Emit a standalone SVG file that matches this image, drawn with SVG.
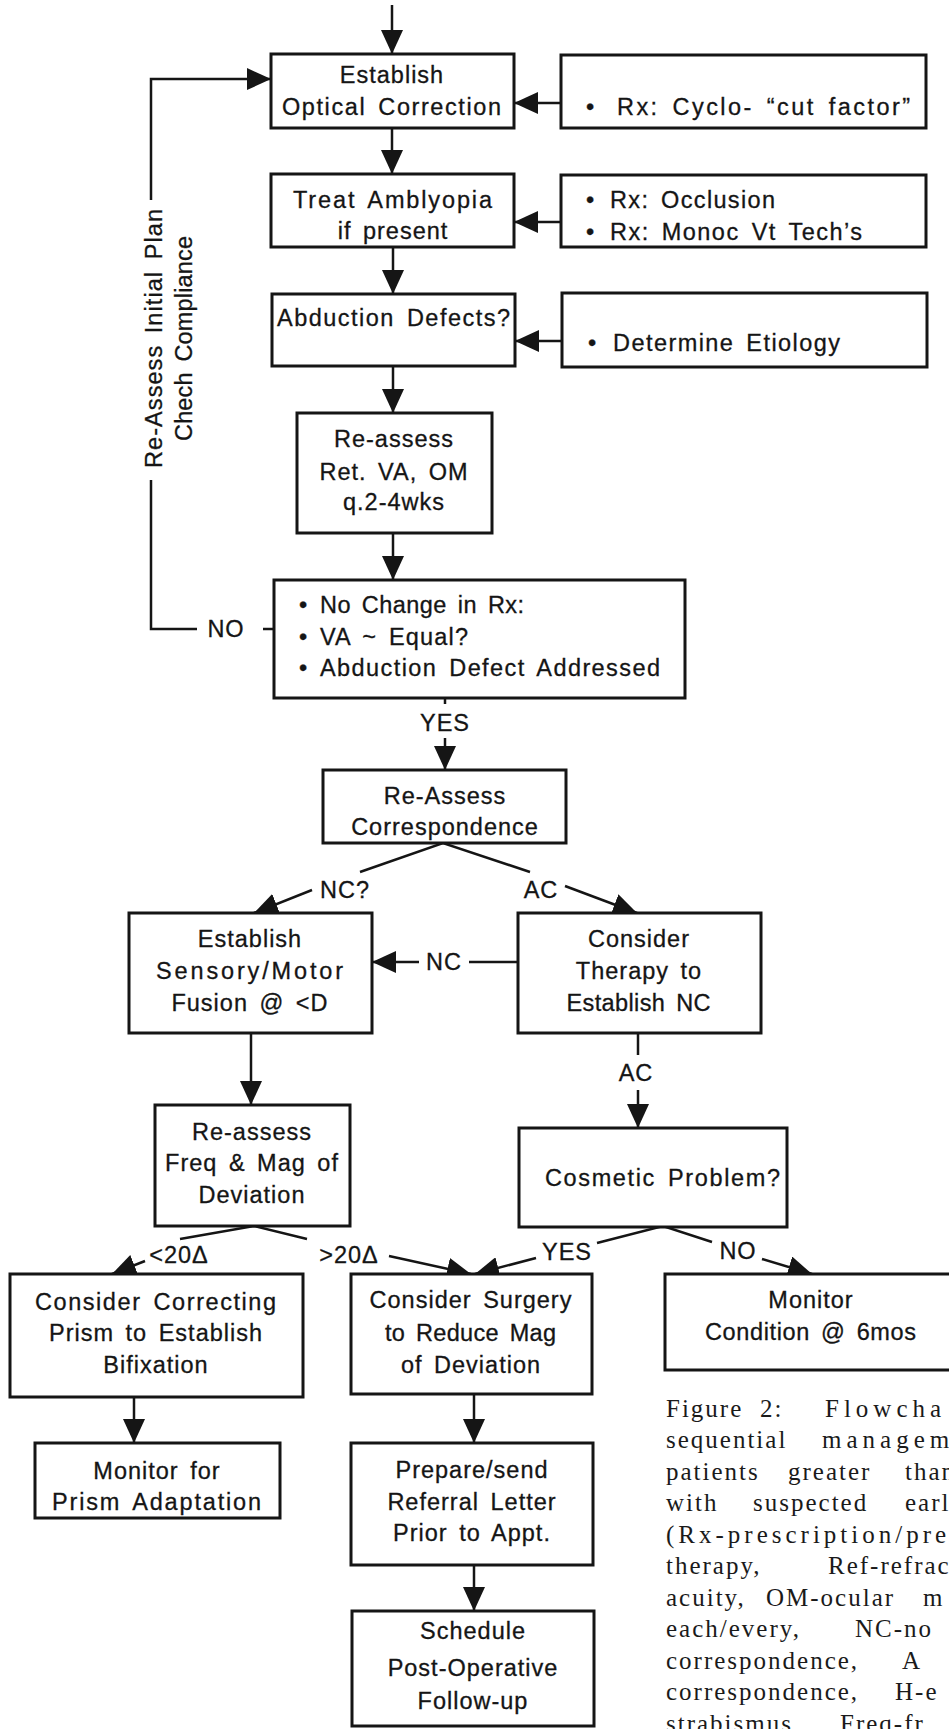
<svg xmlns="http://www.w3.org/2000/svg" width="949" height="1729" viewBox="0 0 949 1729">
<style>
.box{fill:#fff;stroke:#151515;stroke-width:3}
.ln{stroke:#151515;stroke-width:2.5;fill:none}
.ar{stroke:#151515;stroke-width:2.5;fill:none;marker-end:url(#ah)}
.t{font-family:"Liberation Sans",Arial,sans-serif;font-size:23.5px;letter-spacing:1px;word-spacing:4px;fill:#151515;stroke:#151515;stroke-width:0.3;text-anchor:middle}
.l{text-anchor:start}
.cap{font-family:"Liberation Serif","Times New Roman",serif;font-size:25px;letter-spacing:2px;fill:#1a1a1a}
.wide{letter-spacing:5px}
</style>
<defs>
<marker id="ah" markerUnits="userSpaceOnUse" markerWidth="26" markerHeight="22" refX="24" refY="11" orient="auto">
<path d="M0,0 L24,11 L0,22 z" fill="#151515"/>
</marker>
</defs>
<rect width="949" height="1729" fill="#fff"/>

<g id="connectors">
<line class="ar" x1="392" y1="5" x2="392" y2="54"/>
<line class="ar" x1="392" y1="128" x2="392" y2="174"/>
<line class="ar" x1="393" y1="247" x2="393" y2="294"/>
<line class="ar" x1="393" y1="366" x2="393" y2="413"/>
<line class="ar" x1="393" y1="533" x2="393" y2="580"/>
<line class="ar" x1="561" y1="103" x2="514" y2="103"/>
<line class="ar" x1="561" y1="222" x2="514" y2="222"/>
<line class="ar" x1="562" y1="341" x2="515" y2="341"/>
<polyline class="ar" points="151,200 151,79 271,79"/>
<polyline class="ln" points="151,480 151,629 197,629"/>
<line class="ln" x1="263" y1="629" x2="274" y2="629"/>
<line class="ln" x1="445" y1="698" x2="445" y2="704"/>
<line class="ar" x1="445" y1="738" x2="445" y2="770"/>
<polyline class="ln" points="360,872 443,843 530,872"/>
<line class="ar" x1="312" y1="890" x2="254" y2="913"/>
<line class="ar" x1="565" y1="886" x2="637" y2="913"/>
<line class="ln" x1="518" y1="962" x2="469" y2="962"/>
<line class="ar" x1="419" y1="962" x2="372" y2="962"/>
<line class="ln" x1="638" y1="1033" x2="638" y2="1055"/>
<line class="ar" x1="638" y1="1090" x2="638" y2="1128"/>
<line class="ar" x1="251" y1="1033" x2="251" y2="1105"/>
<polyline class="ln" points="180,1239 254,1226 307,1239"/>
<line class="ar" x1="145" y1="1261" x2="112" y2="1274"/>
<line class="ar" x1="389" y1="1256" x2="471" y2="1274"/>
<line class="ar" x1="536" y1="1258" x2="475" y2="1274"/>
<polyline class="ln" points="597,1243 663,1226 712,1242"/>
<line class="ar" x1="762" y1="1259" x2="812" y2="1274"/>
<line class="ar" x1="134" y1="1397" x2="134" y2="1443"/>
<line class="ar" x1="474" y1="1394" x2="474" y2="1443"/>
<line class="ar" x1="474" y1="1565" x2="474" y2="1611"/>
<text class="t" transform="translate(162,338) rotate(-90)" textLength="260" lengthAdjust="spacing">Re-Assess Initial Plan</text>
<text class="t" transform="translate(192,338) rotate(-90)" textLength="206" lengthAdjust="spacing">Chech Compliance</text>
<text class="t" x="226" y="637">NO</text>
<text class="t" x="445" y="731">YES</text>
<text class="t" x="345" y="898">NC?</text>
<text class="t" x="541" y="898">AC</text>
<text class="t" x="444" y="970">NC</text>
<text class="t" x="636" y="1081">AC</text>
<text class="t" x="179" y="1263">&lt;20Δ</text>
<text class="t" x="349" y="1263">&gt;20Δ</text>
<text class="t" x="567" y="1260">YES</text>
<text class="t" x="738" y="1259">NO</text>
</g>

<g id="n1"><rect class="box" x="271" y="54" width="243" height="74"/>
<text class="t" x="392" y="83">Establish</text>
<text class="t" x="392" y="115" textLength="220" lengthAdjust="spacing">Optical Correction</text></g>

<g id="r1"><rect class="box" x="561" y="55" width="365" height="73"/>
<text class="t l" x="586" y="115">•</text>
<text class="t l" x="617" y="115" textLength="294" lengthAdjust="spacing">Rx: Cyclo- “cut factor”</text></g>

<g id="n2"><rect class="box" x="271" y="174" width="243" height="73"/>
<text class="t" x="393" y="208" textLength="200" lengthAdjust="spacing">Treat Amblyopia</text>
<text class="t" x="393" y="239">if present</text></g>

<g id="r2"><rect class="box" x="561" y="175" width="365" height="72"/>
<text class="t l" x="586" y="208">•</text>
<text class="t l" x="610" y="208" textLength="166" lengthAdjust="spacing">Rx: Occlusion</text>
<text class="t l" x="586" y="240">•</text>
<text class="t l" x="610" y="240" textLength="253" lengthAdjust="spacing">Rx: Monoc Vt Tech’s</text></g>

<g id="n3"><rect class="box" x="272" y="294" width="243" height="72"/>
<text class="t" x="394" y="326" textLength="234" lengthAdjust="spacing">Abduction Defects?</text></g>

<g id="r3"><rect class="box" x="562" y="293" width="365" height="74"/>
<text class="t l" x="588" y="351">•</text>
<text class="t l" x="613" y="351" textLength="228" lengthAdjust="spacing">Determine Etiology</text></g>

<g id="n4"><rect class="box" x="297" y="413" width="195" height="120"/>
<text class="t" x="394" y="447">Re-assess</text>
<text class="t" x="394" y="480">Ret. VA, OM</text>
<text class="t" x="394" y="510">q.2-4wks</text></g>

<g id="n5"><rect class="box" x="274" y="580" width="411" height="118"/>
<text class="t l" x="299" y="613">•</text>
<text class="t l" x="320" y="613" textLength="205" lengthAdjust="spacing">No Change in Rx:</text>
<text class="t l" x="299" y="645">•</text>
<text class="t l" x="320" y="645" textLength="149" lengthAdjust="spacing">VA ~ Equal?</text>
<text class="t l" x="299" y="676">•</text>
<text class="t l" x="320" y="676" textLength="341" lengthAdjust="spacing">Abduction Defect Addressed</text></g>

<g id="n6"><rect class="box" x="323" y="770" width="243" height="73"/>
<text class="t" x="445" y="804">Re-Assess</text>
<text class="t" x="445" y="835">Correspondence</text></g>

<g id="n7"><rect class="box" x="129" y="913" width="243" height="120"/>
<text class="t" x="250" y="947">Establish</text>
<text class="t" x="250" y="979" textLength="188" lengthAdjust="spacing">Sensory/Motor</text>
<text class="t" x="250" y="1011">Fusion @ &lt;D</text></g>

<g id="n8"><rect class="box" x="518" y="913" width="243" height="120"/>
<text class="t" x="639" y="947">Consider</text>
<text class="t" x="639" y="979">Therapy to</text>
<text class="t" x="639" y="1011" textLength="145" lengthAdjust="spacing">Establish NC</text></g>

<g id="n9"><rect class="box" x="155" y="1105" width="195" height="121"/>
<text class="t" x="252" y="1140">Re-assess</text>
<text class="t" x="252" y="1171">Freq &amp; Mag of</text>
<text class="t" x="252" y="1203">Deviation</text></g>

<g id="n10"><rect class="box" x="519" y="1128" width="268" height="99"/>
<text class="t" x="663" y="1186" textLength="236" lengthAdjust="spacing">Cosmetic Problem?</text></g>

<g id="n11"><rect class="box" x="10" y="1274" width="293" height="123"/>
<text class="t" x="156" y="1310" textLength="242" lengthAdjust="spacing">Consider Correcting</text>
<text class="t" x="156" y="1341">Prism to Establish</text>
<text class="t" x="156" y="1373">Bifixation</text></g>

<g id="n12"><rect class="box" x="351" y="1274" width="241" height="120"/>
<text class="t" x="471" y="1308">Consider Surgery</text>
<text class="t" x="471" y="1341" textLength="172" lengthAdjust="spacing">to Reduce Mag</text>
<text class="t" x="471" y="1373">of Deviation</text></g>

<g id="n13"><rect class="box" x="665" y="1274" width="300" height="96"/>
<text class="t" x="811" y="1308">Monitor</text>
<text class="t" x="811" y="1340" textLength="212" lengthAdjust="spacing">Condition @ 6mos</text></g>

<g id="n14"><rect class="box" x="35" y="1443" width="245" height="75"/>
<text class="t" x="157" y="1479">Monitor for</text>
<text class="t" x="157" y="1510" textLength="210" lengthAdjust="spacing">Prism Adaptation</text></g>

<g id="n15"><rect class="box" x="351" y="1443" width="242" height="122"/>
<text class="t" x="472" y="1478">Prepare/send</text>
<text class="t" x="472" y="1510">Referral Letter</text>
<text class="t" x="472" y="1541">Prior to Appt.</text></g>

<g id="n16"><rect class="box" x="352" y="1611" width="242" height="115"/>
<text class="t" x="473" y="1639">Schedule</text>
<text class="t" x="473" y="1676">Post-Operative</text>
<text class="t" x="473" y="1709">Follow-up</text></g>

<g id="caption">
<text class="cap" y="1417"><tspan x="666">Figure</tspan><tspan x="760">2:</tspan><tspan class="wide" x="825">Flowcha</tspan></text>
<text class="cap" y="1448"><tspan x="666">sequential</tspan><tspan class="wide" x="822">managem</tspan></text>
<text class="cap" y="1480"><tspan x="666">patients</tspan><tspan x="788">greater</tspan><tspan x="905">than</tspan></text>
<text class="cap" y="1511"><tspan x="666">with</tspan><tspan x="753">suspected</tspan><tspan x="905">earl</tspan></text>
<text class="cap" y="1543" style="letter-spacing:4px"><tspan x="666">(Rx-prescription/pre</tspan></text>
<text class="cap" y="1574"><tspan x="666">therapy,</tspan><tspan x="828">Ref-refrac</tspan></text>
<text class="cap" y="1606"><tspan x="666">acuity,</tspan><tspan x="766">OM-ocular</tspan><tspan x="923">m</tspan></text>
<text class="cap" y="1637"><tspan x="666">each/every,</tspan><tspan x="855">NC-no</tspan></text>
<text class="cap" y="1669"><tspan x="666">correspondence,</tspan><tspan x="902">A</tspan></text>
<text class="cap" y="1700"><tspan x="666">correspondence,</tspan><tspan x="895">H-e</tspan></text>
<text class="cap" y="1732"><tspan x="666">strabismus,</tspan><tspan x="840">Freq-fr</tspan></text>
</g>
</svg>
